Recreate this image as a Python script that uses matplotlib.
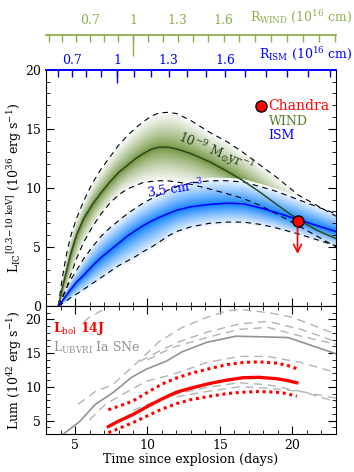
"""Inverse-Compton X-ray light curve limits and optical luminosity of SN 2014J."""

import matplotlib.pyplot as plt
import numpy as np
from matplotlib.colors import to_rgb
from matplotlib.ticker import MultipleLocator

plt.rcParams['font.family'] = 'DejaVu Serif'
plt.rcParams['mathtext.fontset'] = 'dejavuserif'
plt.rcParams['font.size'] = 9

# --- Upper panel: IC X-ray luminosity models (10^36 erg/s) ---
t_model = [3.85, 4.1, 4.4, 4.7, 5.1, 5.6, 6.2, 6.8, 7.4, 8.0, 8.6, 9.2, 9.7,
           10.3, 10.8, 11.4, 12.0, 13.0, 14.3, 15.5, 16.6, 17.8, 18.9, 20.4,
           21.7, 23.0]
wind_mid = [0.0, 1.4, 2.9, 4.4, 6.0, 7.4, 8.6, 9.6, 10.5, 11.3, 11.9, 12.5, 12.9,
            13.3, 13.45, 13.45, 13.3, 12.9, 12.2, 11.4, 10.6, 9.6, 8.6, 7.3,
            6.4, 5.7]
wind_hi = [0.0, 2.2, 4.3, 5.9, 7.4, 8.9, 10.4, 11.6, 12.6, 13.6, 14.4, 15.1, 15.6,
           16.1, 16.35, 16.4, 16.3, 15.7, 14.7, 13.9, 13.0, 11.9, 10.9, 9.4,
           8.5, 7.6]
wind_lo = [0.0, 0.6, 1.4, 2.6, 4.0, 5.4, 6.7, 7.8, 8.7, 9.4, 9.9, 10.2, 10.45,
           10.55, 10.6, 10.6, 10.5, 10.3, 9.9, 9.5, 9.1, 8.5, 7.8, 6.8,
           5.9, 5.0]
ism_mid = [0.0, 0.4, 0.9, 1.4, 2.0, 2.6, 3.4, 4.1, 4.7, 5.3, 5.9, 6.4, 6.8,
           7.2, 7.5, 7.8, 8.1, 8.4, 8.6, 8.7, 8.65, 8.3, 7.9, 7.3,
           6.8, 6.3]
ism_hi = [0.0, 0.7, 1.5, 2.2, 3.0, 4.0, 5.0, 5.9, 6.6, 7.2, 7.8, 8.3, 8.7,
          9.1, 9.4, 9.8, 10.1, 10.4, 10.6, 10.6, 10.5, 10.1, 9.7, 9.0,
          8.4, 7.8]
ism_lo = [0.0, 0.2, 0.4, 0.7, 1.0, 1.4, 1.9, 2.4, 2.9, 3.4, 3.8, 4.2, 4.6,
          5.0, 5.4, 5.9, 6.3, 6.7, 7.0, 7.1, 7.1, 6.9, 6.6, 6.1,
          5.6, 5.1]

chandra_t = 20.35
chandra_L = 7.2
chandra_arrow_to = 4.4

# --- Lower panel: optical luminosity (10^42 erg/s) ---
t_bol = [7.3, 8.0, 9.0, 10.1, 11.0, 12.0, 13.0, 14.3, 15.5, 16.6, 17.7, 18.9,
         19.6, 20.3]
bol_mid = [4.1, 4.9, 5.9, 7.2, 8.2, 9.2, 9.8, 10.5, 11.0, 11.35, 11.4, 11.2,
           10.95, 10.6]
bol_hi = [6.6, 7.1, 7.9, 9.3, 10.4, 11.3, 12.0, 12.7, 13.3, 13.6, 13.7, 13.5,
          13.2, 12.7]
bol_lo = [3.2, 3.8, 4.7, 5.8, 6.7, 7.5, 8.1, 8.6, 9.0, 9.2, 9.3, 9.2,
          9.0, 8.6]

t_mean = [4.2, 5.3, 6.4, 7.6, 8.9, 9.9, 11.3, 12.4, 14.1, 16.1, 18.0, 19.7, 23.0]
ia_mean = [3.0, 4.8, 7.4, 9.1, 11.4, 12.6, 13.8, 15.2, 16.6, 17.5, 17.4, 17.3, 14.9]

ia_dashed = [
    ([5.6, 6.0, 7.0, 7.7], [19.6, 20.3, 21.5, 22.3]),
    ([5.2, 6.4, 7.6, 9.9, 10.8, 12.4, 14.1, 15.4, 16.3, 18.3, 20.0, 23.0],
     [7.4, 9.3, 10.3, 14.8, 16.7, 18.8, 20.3, 21.2, 21.5, 21.0, 20.3, 17.8]),
    ([9.5, 11.0, 12.2, 14.1, 16.3, 18.3, 20.6, 23.0],
     [13.8, 15.5, 16.7, 18.1, 19.3, 19.7, 18.5, 16.7]),
    ([10.0, 11.7, 14.1, 16.3, 18.3, 20.6, 23.0],
     [14.0, 15.8, 17.3, 18.5, 18.8, 17.5, 16.3]),
    ([6.0, 7.1, 8.3, 9.9, 11.7, 14.1, 16.3, 18.3, 20.6, 23.0],
     [5.1, 7.4, 8.9, 10.8, 11.8, 13.6, 14.5, 14.5, 13.6, 12.1]),
    ([9.0, 10.8, 12.5, 14.1, 16.3, 18.3, 20.6, 23.0],
     [6.5, 8.1, 9.2, 9.9, 10.6, 10.3, 9.3, 7.8]),
    ([12.0, 14.1, 16.3, 18.3, 20.6, 23.0],
     [8.5, 9.3, 10.0, 9.8, 9.3, 8.3]),
]

# Top axes: shock radius as a function of time (10^16 cm)
r_ticks = [0.7, 1.0, 1.3, 1.6]
r_tick_labels = ['0.7', '1', '1.3', '1.6']

WIND_AXIS = '#8fae4f'
WIND_TEXT = '#4f7f2a'


def shaded_band(ax, t, mid, lo, hi, color, power, spread, n=40):
    """Opaque nested fills fading from `color` at the middle to white."""
    t, mid, lo, hi = map(np.asarray, (t, mid, lo, hi))
    base = np.array(to_rgb(color))
    for f in np.linspace(1, 0.02, n):
        col = base + (np.ones(3) - base) * f ** power
        ax.fill_between(t, mid - (mid - lo) * f * spread,
                        mid + (hi - mid) * f * spread,
                        color=col, lw=0, zorder=1)


fig = plt.figure(figsize=(3.54, 4.72), dpi=100)
ax1 = fig.add_axes([0.130, 0.352, 0.819, 0.500])
ax2 = fig.add_axes([0.130, 0.0805, 0.819, 0.2715])

# Upper panel
shaded_band(ax1, t_model, wind_mid, wind_lo, wind_hi, '#6a8f35', 0.75, 1.05)
shaded_band(ax1, t_model, ism_mid, ism_lo, ism_hi, '#0a80ff', 0.9, 1.15)
dash = dict(color='k', ls=(0, (5, 4)), lw=0.8, zorder=3)
for curve in (wind_hi, wind_lo, ism_hi, ism_lo):
    ax1.plot(t_model, curve, **dash)
ax1.plot(t_model, wind_mid, color='#2f4a1f', lw=1.1, zorder=4)
ax1.plot(t_model, ism_mid, color='#0000ff', lw=1.1, zorder=4)

ax1.annotate('', xy=(chandra_t, chandra_arrow_to), xytext=(chandra_t, chandra_L),
             arrowprops=dict(arrowstyle='->', color='red', lw=1.2,
                             mutation_scale=14, shrinkA=0, shrinkB=0), zorder=5)
ax1.plot(chandra_t, chandra_L, 'o', ms=8, mfc='red', mec='k', mew=1, zorder=6)

ax1.plot(17.85, 16.9, 'o', ms=8, mfc='red', mec='k', mew=1, clip_on=False)
ax1.text(18.3, 16.9, 'Chandra', color='red', fontsize=10, va='center')
ax1.text(18.35, 15.6, 'WIND', color=WIND_TEXT, fontsize=9, va='center')
ax1.text(18.35, 14.4, 'ISM', color='blue', fontsize=9, va='center')

ax1.text(14.7, 13.0, r'10$^{-9}$ M$_{\odot}$yr$^{-1}$', color='#2f3d1f',
         fontsize=9, rotation=-23, ha='center', va='center', zorder=7)
ax1.text(11.9, 9.9, r'3.5 cm$^{-3}$', color='blue', fontsize=9,
         rotation=9, ha='center', va='center', zorder=7)

ax1.set_xlim(3, 23)
ax1.set_ylim(0, 20)
ax1.set_ylabel(r'L$_{\rm IC}$$^{[0.3\!-\!10\ \rm keV]}$ (10$^{36}$ erg s$^{-1}$)')
ax1.yaxis.set_label_coords(-0.075, 0.5)
ax1.yaxis.set_major_locator(MultipleLocator(5))
ax1.yaxis.set_minor_locator(MultipleLocator(1))
ax1.xaxis.set_major_locator(MultipleLocator(5))
ax1.xaxis.set_minor_locator(MultipleLocator(1))
ax1.tick_params(which='both', direction='in', right=True, top=False,
                labelbottom=False)
ax1.tick_params(which='major', length=6)
ax1.tick_params(which='minor', length=3)
ax1.spines['top'].set_color('blue')
ax1.spines['top'].set_linewidth(1.3)

# Radius axes on top
ism_fwd = lambda t: (np.clip(t, 1e-3, None) / 7.9) ** 0.706
ism_inv = lambda r: 7.9 * np.clip(r, 1e-3, None) ** (1 / 0.706)
wind_fwd = lambda t: (np.clip(t, 1e-3, None) / 9.0) ** 0.89
wind_inv = lambda r: 9.0 * np.clip(r, 1e-3, None) ** (1 / 0.89)

for fwd, inv, loc, col, long_len, pad in (
        (ism_fwd, ism_inv, 'top', 'blue', 9, 2),
        (wind_fwd, wind_inv, 1.148, WIND_AXIS, 15, 6)):
    sec = ax1.secondary_xaxis(loc, functions=(fwd, inv))
    sec.set_xticks(r_ticks, r_tick_labels)
    sec.xaxis.set_minor_locator(MultipleLocator(0.1))
    sec.tick_params(which='both', direction='in', color=col, labelcolor=col,
                    length=5, width=1, pad=pad, labelsize=9)
    sec.spines['top'].set_color(col)
    sec.spines['top'].set_linewidth(1.3)
    sec_long = ax1.secondary_xaxis(loc, functions=(fwd, inv))
    sec_long.set_xticks([1.0], [''])
    sec_long.tick_params(direction='in', color=col, length=long_len, width=1)
    sec_long.spines['top'].set_visible(False)

fig.text(0.995, 0.962, r'R$_{\rm WIND}$ (10$^{16}$ cm)', color=WIND_AXIS,
         ha='right', va='center', fontsize=9)
fig.text(0.995, 0.885, r'R$_{\rm ISM}$ (10$^{16}$ cm)', color='blue',
         ha='right', va='center', fontsize=9)

# Lower panel
for tt, yy in ia_dashed:
    ax2.plot(tt, yy, color='#b4b4b4', ls=(0, (6, 4)), lw=1.0)
ax2.plot(t_mean, ia_mean, color='#939393', lw=1.2)
ax2.plot(t_bol, bol_hi, color='red', ls=(0, (1, 1.2)), lw=2.2)
ax2.plot(t_bol, bol_lo, color='red', ls=(0, (1, 1.2)), lw=2.2)
ax2.plot(t_bol, bol_mid, color='red', lw=2.4)

ax2.text(0.024, 0.82, r'L$_{\rm bol}$ 14J', color='red', fontweight='bold',
         transform=ax2.transAxes, fontsize=9, va='center')
ax2.text(0.024, 0.675, r'L$_{\rm UBVRI}$ Ia SNe', color='#939393',
         transform=ax2.transAxes, fontsize=9, va='center')

ax2.set_xlim(3, 23)
ax2.set_ylim(3, 22)
ax2.set_xlabel('Time since explosion (days)', labelpad=1)
ax2.set_ylabel(r'Lum (10$^{42}$ erg s$^{-1}$)')
ax2.yaxis.set_label_coords(-0.075, 0.5)
ax2.yaxis.set_major_locator(MultipleLocator(5))
ax2.yaxis.set_minor_locator(MultipleLocator(1))
ax2.xaxis.set_major_locator(MultipleLocator(5))
ax2.xaxis.set_minor_locator(MultipleLocator(1))
ax2.tick_params(which='both', direction='in', right=True, top=True)
ax2.tick_params(which='major', length=6)
ax2.tick_params(which='minor', length=3)

plt.savefig('out.png', dpi=100)
